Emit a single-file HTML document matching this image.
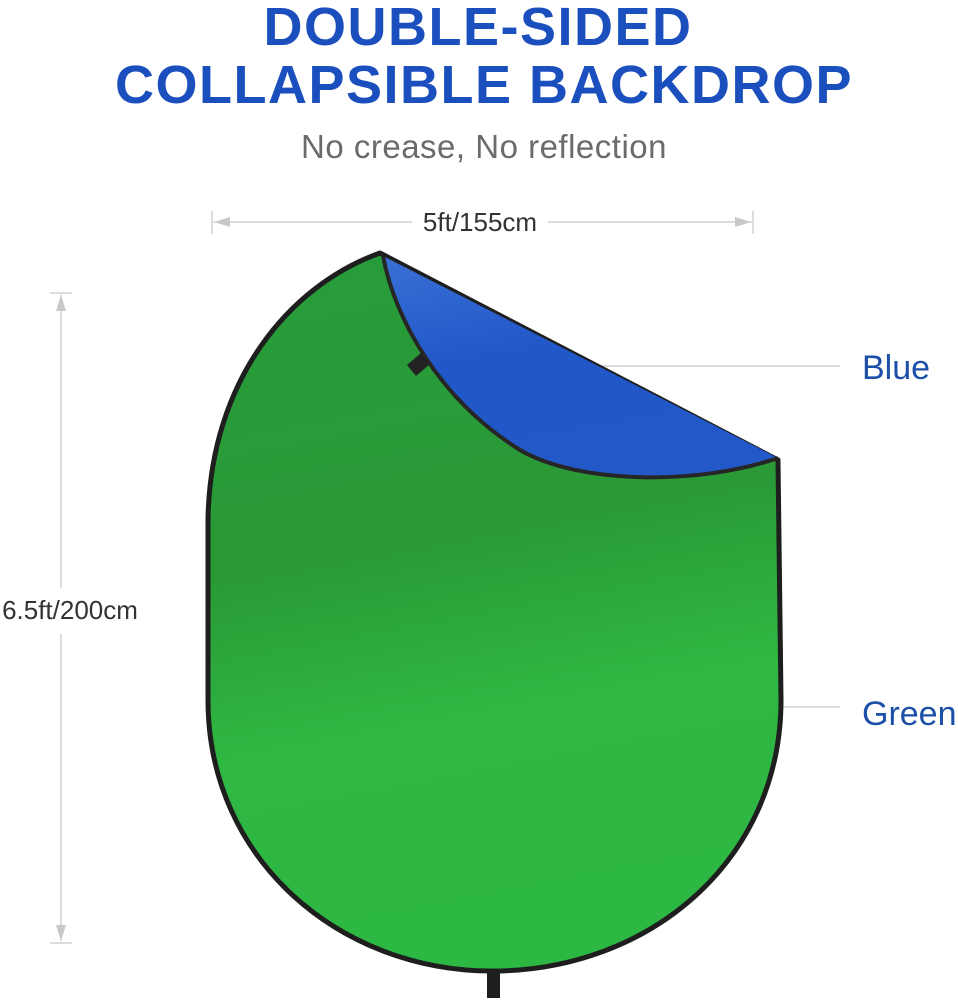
<!DOCTYPE html>
<html><head><style>
body{margin:0;width:958px;height:1000px;background:#fff;overflow:hidden;font-family:"Liberation Sans",sans-serif}
</style></head><body>
<svg width="958" height="1000" xmlns="http://www.w3.org/2000/svg" style="position:absolute;left:0;top:0">
<defs>
<linearGradient id="g" x1="0" y1="0" x2="0.15" y2="1">
<stop offset="0" stop-color="#279c3a"/><stop offset="0.45" stop-color="#2a9a36"/><stop offset="0.7" stop-color="#2fb843"/><stop offset="1" stop-color="#2db843"/>
</linearGradient>
<linearGradient id="b" x1="0" y1="0" x2="0.3" y2="1">
<stop offset="0" stop-color="#3a70d4"/><stop offset="0.5" stop-color="#2057c9"/><stop offset="1" stop-color="#2258c8"/>
</linearGradient>
</defs>
<text x="478" y="45" text-anchor="middle" font-family="Liberation Sans" font-weight="bold" font-size="54" letter-spacing="1.5" fill="#1b4fbe">DOUBLE-SIDED</text>
<text x="484" y="103" text-anchor="middle" font-family="Liberation Sans" font-weight="bold" font-size="54" letter-spacing="1.5" fill="#1b4fbe">COLLAPSIBLE BACKDROP</text>
<text x="484" y="158" text-anchor="middle" font-family="Liberation Sans" font-size="33" letter-spacing="0.5" fill="#6b6b6b">No crease, No reflection</text>
<g stroke="#c8c8c8" stroke-width="1.3" fill="#c8c8c8">
<line x1="213" y1="222" x2="412" y2="222"/><line x1="548" y1="222" x2="752" y2="222"/>
<line x1="212" y1="211" x2="212" y2="234"/><line x1="753" y1="211" x2="753" y2="234"/>
<polygon points="214,222 230,217 230,227" stroke="none"/><polygon points="751,222 735,217 735,227" stroke="none"/>
<line x1="61" y1="295" x2="61" y2="588"/><line x1="61" y1="634" x2="61" y2="941"/>
<line x1="50" y1="293" x2="72" y2="293"/><line x1="50" y1="943" x2="72" y2="943"/>
<polygon points="61,295 56,311 66,311" stroke="none"/><polygon points="61,941 56,925 66,925" stroke="none"/>
<line x1="568" y1="366" x2="840" y2="366"/><line x1="697" y1="707" x2="840" y2="707"/>
</g>
<text x="480" y="231" text-anchor="middle" font-size="26" fill="#333">5ft/155cm</text>
<text x="70" y="619" text-anchor="middle" font-size="26" fill="#333">6.5ft/200cm</text>
<text x="862" y="379" font-size="34" fill="#1c4fa8">Blue</text>
<text x="862" y="725" font-size="34" fill="#1c4fa8">Green</text>
<rect x="487" y="966" width="13" height="32" fill="#1e1e1e"/>
<path d="M380,253 C290,285 210,380 208,520 L208,700 C208,860 340,971 492,971 C650,971 781,860 781,700 L778,460 Z" fill="url(#g)" stroke="#1e1e1e" stroke-width="5" stroke-linejoin="round"/>
<path d="M383,256 L778,458 C700,485 580,485 520,450 C440,400 395,320 383,256 Z" fill="url(#b)" stroke="none"/>
<path d="M778,458 C700,485 580,485 520,450 C440,400 395,320 383,256" fill="none" stroke="#262626" stroke-width="4"/>
<polygon points="407,365 421,353 430,364 416,376" fill="#222"/>
</svg>
</body></html>
